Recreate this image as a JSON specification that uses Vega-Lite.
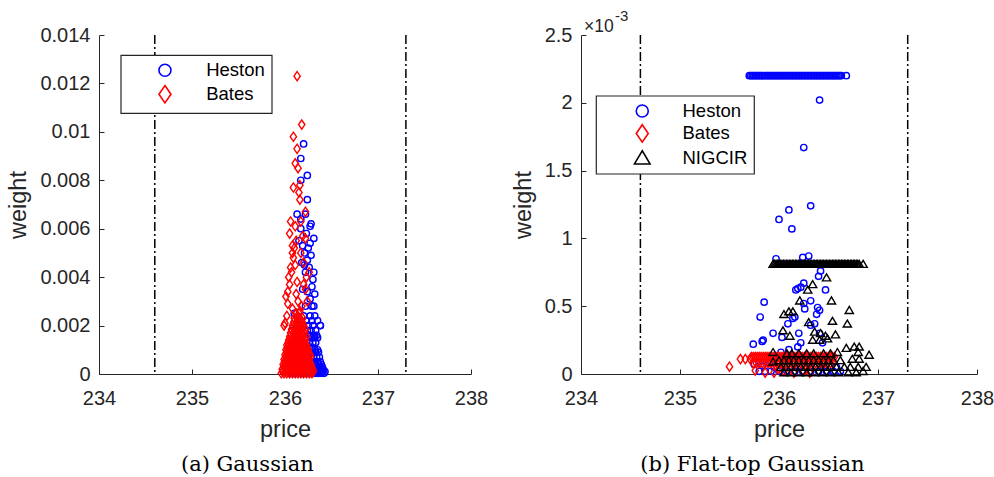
{
 "$schema": "https://vega.github.io/schema/vega-lite/v6.json",
 "background": "white",
 "padding": {"left": 6, "top": 9, "right": 0, "bottom": 0},
 "spacing": 23,
 "datasets": {
  "vlines": [{"price": 234.6}, {"price": 237.3}],
  "expo": [{"part": "base", "price": 234, "weight": 0.0025, "label": "×10"}, {"part": "exp", "price": 234, "weight": 0.0025, "label": "-3"}],
  "gauss": [
   {"model":"Heston","price":236.06,"weight":0.00003},{"model":"Heston","price":236.09,"weight":0.00003},{"model":"Heston","price":236.12,"weight":0.00003},{"model":"Heston","price":236.15,"weight":0.00003},{"model":"Heston","price":236.18,"weight":0.00003},{"model":"Heston","price":236.21,"weight":0.00003},{"model":"Heston","price":236.24,"weight":0.00003},{"model":"Heston","price":236.27,"weight":0.00003},{"model":"Heston","price":236.30,"weight":0.00003},{"model":"Heston","price":236.33,"weight":0.00003},{"model":"Heston","price":236.36,"weight":0.00003},{"model":"Heston","price":236.39,"weight":0.00003},{"model":"Heston","price":236.42,"weight":0.00003},
   {"model":"Heston","price":236.075,"weight":0.0001},{"model":"Heston","price":236.135,"weight":0.0001},{"model":"Heston","price":236.195,"weight":0.0001},{"model":"Heston","price":236.255,"weight":0.0001},{"model":"Heston","price":236.285,"weight":0.0001},{"model":"Heston","price":236.315,"weight":0.0001},{"model":"Heston","price":236.345,"weight":0.0001},{"model":"Heston","price":236.375,"weight":0.0001},{"model":"Heston","price":236.405,"weight":0.0001},{"model":"Heston","price":236.43,"weight":0.0001},
   {"model":"Heston","price":236.08,"weight":0.0002},{"model":"Heston","price":236.14,"weight":0.0002},{"model":"Heston","price":236.20,"weight":0.0002},{"model":"Heston","price":236.26,"weight":0.0002},{"model":"Heston","price":236.30,"weight":0.0002},{"model":"Heston","price":236.33,"weight":0.0002},{"model":"Heston","price":236.36,"weight":0.0002},{"model":"Heston","price":236.39,"weight":0.0002},{"model":"Heston","price":236.41,"weight":0.0002},
   {"model":"Heston","price":236.10,"weight":0.0003},{"model":"Heston","price":236.20,"weight":0.0003},{"model":"Heston","price":236.28,"weight":0.0003},{"model":"Heston","price":236.31,"weight":0.0003},{"model":"Heston","price":236.34,"weight":0.0003},{"model":"Heston","price":236.37,"weight":0.0003},{"model":"Heston","price":236.40,"weight":0.0003},
   {"model":"Heston","price":236.10,"weight":0.0004},{"model":"Heston","price":236.18,"weight":0.0004},{"model":"Heston","price":236.26,"weight":0.0004},{"model":"Heston","price":236.30,"weight":0.0004},{"model":"Heston","price":236.33,"weight":0.0004},{"model":"Heston","price":236.36,"weight":0.0004},{"model":"Heston","price":236.39,"weight":0.0004},
   {"model":"Heston","price":236.14,"weight":0.0005},{"model":"Heston","price":236.24,"weight":0.0005},{"model":"Heston","price":236.29,"weight":0.0005},{"model":"Heston","price":236.32,"weight":0.0005},{"model":"Heston","price":236.35,"weight":0.0005},{"model":"Heston","price":236.38,"weight":0.0005},
   {"model":"Heston","price":236.12,"weight":0.0007},{"model":"Heston","price":236.22,"weight":0.0007},{"model":"Heston","price":236.28,"weight":0.0007},{"model":"Heston","price":236.31,"weight":0.0007},{"model":"Heston","price":236.34,"weight":0.0007},{"model":"Heston","price":236.37,"weight":0.0007},
   {"model":"Heston","price":236.18,"weight":0.0009},{"model":"Heston","price":236.27,"weight":0.0009},{"model":"Heston","price":236.30,"weight":0.0009},{"model":"Heston","price":236.33,"weight":0.0009},{"model":"Heston","price":236.36,"weight":0.0009},
   {"model":"Heston","price":236.10,"weight":0.001},{"model":"Heston","price":236.24,"weight":0.001},{"model":"Heston","price":236.29,"weight":0.001},{"model":"Heston","price":236.32,"weight":0.001},{"model":"Heston","price":236.35,"weight":0.001},
   {"model":"Heston","price":236.08,"weight":0.0013},{"model":"Heston","price":236.26,"weight":0.0013},{"model":"Heston","price":236.30,"weight":0.0013},{"model":"Heston","price":236.33,"weight":0.0013},
   {"model":"Heston","price":236.22,"weight":0.0015},{"model":"Heston","price":236.29,"weight":0.0015},{"model":"Heston","price":236.32,"weight":0.0015},{"model":"Heston","price":236.35,"weight":0.0015},
   {"model":"Heston","price":236.12,"weight":0.0016},{"model":"Heston","price":236.27,"weight":0.0016},{"model":"Heston","price":236.31,"weight":0.0016},{"model":"Heston","price":236.34,"weight":0.0016},
   {"model":"Heston","price":236.08,"weight":0.0018},{"model":"Heston","price":236.24,"weight":0.0018},{"model":"Heston","price":236.28,"weight":0.0018},{"model":"Heston","price":236.33,"weight":0.0018},
   {"model":"Heston","price":236.15,"weight":0.002},{"model":"Heston","price":236.25,"weight":0.002},{"model":"Heston","price":236.30,"weight":0.002},{"model":"Heston","price":236.38,"weight":0.002},
   {"model":"Heston","price":236.23,"weight":0.0022},{"model":"Heston","price":236.29,"weight":0.0022},{"model":"Heston","price":236.35,"weight":0.0022},
   {"model":"Heston","price":236.20,"weight":0.0024},{"model":"Heston","price":236.27,"weight":0.0024},{"model":"Heston","price":236.32,"weight":0.0024},
   {"model":"Heston","price":236.22,"weight":0.0028},{"model":"Heston","price":236.29,"weight":0.0028},{"model":"Heston","price":236.31,"weight":0.0028},
   {"model":"Heston","price":236.10,"weight":0.0025},{"model":"Heston","price":236.27,"weight":0.0031},{"model":"Heston","price":236.32,"weight":0.0033},{"model":"Heston","price":236.24,"weight":0.0034},{"model":"Heston","price":236.29,"weight":0.0036},{"model":"Heston","price":236.19,"weight":0.0035},{"model":"Heston","price":236.30,"weight":0.0039},{"model":"Heston","price":236.31,"weight":0.0042},{"model":"Heston","price":236.22,"weight":0.0042},{"model":"Heston","price":236.26,"weight":0.0044},{"model":"Heston","price":236.18,"weight":0.0046},{"model":"Heston","price":236.24,"weight":0.0047},{"model":"Heston","price":236.28,"weight":0.0049},{"model":"Heston","price":236.21,"weight":0.0050},{"model":"Heston","price":236.25,"weight":0.0052},{"model":"Heston","price":236.19,"weight":0.0053},{"model":"Heston","price":236.27,"weight":0.0054},{"model":"Heston","price":236.31,"weight":0.0056},{"model":"Heston","price":236.23,"weight":0.0058},{"model":"Heston","price":236.17,"weight":0.0060},{"model":"Heston","price":236.27,"weight":0.0061},{"model":"Heston","price":236.28,"weight":0.0062},{"model":"Heston","price":236.17,"weight":0.0064},{"model":"Heston","price":236.13,"weight":0.0066},{"model":"Heston","price":236.22,"weight":0.0066},{"model":"Heston","price":236.24,"weight":0.0072},{"model":"Heston","price":236.17,"weight":0.0080},{"model":"Heston","price":236.24,"weight":0.0082},{"model":"Heston","price":236.17,"weight":0.0089},{"model":"Heston","price":236.20,"weight":0.0095},{"model":"Heston","price":236.15,"weight":0.0055},{"model":"Heston","price":236.21,"weight":0.0045},{"model":"Heston","price":236.38,"weight":0.0020},
   {"model":"Bates","price":235.96,"weight":0.00003},{"model":"Bates","price":235.99,"weight":0.00003},{"model":"Bates","price":236.02,"weight":0.00003},{"model":"Bates","price":236.05,"weight":0.00003},{"model":"Bates","price":236.08,"weight":0.00003},{"model":"Bates","price":236.11,"weight":0.00003},{"model":"Bates","price":236.14,"weight":0.00003},{"model":"Bates","price":236.17,"weight":0.00003},{"model":"Bates","price":236.20,"weight":0.00003},{"model":"Bates","price":236.23,"weight":0.00003},{"model":"Bates","price":236.26,"weight":0.00003},{"model":"Bates","price":236.29,"weight":0.00003},
   {"model":"Bates","price":235.975,"weight":0.0001},{"model":"Bates","price":236.005,"weight":0.0001},{"model":"Bates","price":236.035,"weight":0.0001},{"model":"Bates","price":236.065,"weight":0.0001},{"model":"Bates","price":236.095,"weight":0.0001},{"model":"Bates","price":236.125,"weight":0.0001},{"model":"Bates","price":236.155,"weight":0.0001},{"model":"Bates","price":236.185,"weight":0.0001},{"model":"Bates","price":236.215,"weight":0.0001},{"model":"Bates","price":236.245,"weight":0.0001},{"model":"Bates","price":236.275,"weight":0.0001},{"model":"Bates","price":236.305,"weight":0.0001},
   {"model":"Bates","price":235.97,"weight":0.0002},{"model":"Bates","price":236.00,"weight":0.0002},{"model":"Bates","price":236.03,"weight":0.0002},{"model":"Bates","price":236.06,"weight":0.0002},{"model":"Bates","price":236.09,"weight":0.0002},{"model":"Bates","price":236.12,"weight":0.0002},{"model":"Bates","price":236.15,"weight":0.0002},{"model":"Bates","price":236.18,"weight":0.0002},{"model":"Bates","price":236.21,"weight":0.0002},{"model":"Bates","price":236.24,"weight":0.0002},{"model":"Bates","price":236.27,"weight":0.0002},{"model":"Bates","price":236.30,"weight":0.0002},
   {"model":"Bates","price":235.985,"weight":0.0003},{"model":"Bates","price":236.015,"weight":0.0003},{"model":"Bates","price":236.045,"weight":0.0003},{"model":"Bates","price":236.075,"weight":0.0003},{"model":"Bates","price":236.105,"weight":0.0003},{"model":"Bates","price":236.135,"weight":0.0003},{"model":"Bates","price":236.165,"weight":0.0003},{"model":"Bates","price":236.195,"weight":0.0003},{"model":"Bates","price":236.225,"weight":0.0003},{"model":"Bates","price":236.255,"weight":0.0003},{"model":"Bates","price":236.285,"weight":0.0003},
   {"model":"Bates","price":235.98,"weight":0.0004},{"model":"Bates","price":236.01,"weight":0.0004},{"model":"Bates","price":236.04,"weight":0.0004},{"model":"Bates","price":236.07,"weight":0.0004},{"model":"Bates","price":236.10,"weight":0.0004},{"model":"Bates","price":236.13,"weight":0.0004},{"model":"Bates","price":236.16,"weight":0.0004},{"model":"Bates","price":236.19,"weight":0.0004},{"model":"Bates","price":236.22,"weight":0.0004},{"model":"Bates","price":236.25,"weight":0.0004},{"model":"Bates","price":236.28,"weight":0.0004},
   {"model":"Bates","price":235.995,"weight":0.0005},{"model":"Bates","price":236.025,"weight":0.0005},{"model":"Bates","price":236.055,"weight":0.0005},{"model":"Bates","price":236.085,"weight":0.0005},{"model":"Bates","price":236.115,"weight":0.0005},{"model":"Bates","price":236.145,"weight":0.0005},{"model":"Bates","price":236.175,"weight":0.0005},{"model":"Bates","price":236.205,"weight":0.0005},{"model":"Bates","price":236.235,"weight":0.0005},{"model":"Bates","price":236.265,"weight":0.0005},
   {"model":"Bates","price":235.99,"weight":0.0006},{"model":"Bates","price":236.02,"weight":0.0006},{"model":"Bates","price":236.05,"weight":0.0006},{"model":"Bates","price":236.08,"weight":0.0006},{"model":"Bates","price":236.11,"weight":0.0006},{"model":"Bates","price":236.14,"weight":0.0006},{"model":"Bates","price":236.17,"weight":0.0006},{"model":"Bates","price":236.20,"weight":0.0006},{"model":"Bates","price":236.23,"weight":0.0006},{"model":"Bates","price":236.26,"weight":0.0006},
   {"model":"Bates","price":236.005,"weight":0.0007},{"model":"Bates","price":236.035,"weight":0.0007},{"model":"Bates","price":236.065,"weight":0.0007},{"model":"Bates","price":236.095,"weight":0.0007},{"model":"Bates","price":236.125,"weight":0.0007},{"model":"Bates","price":236.155,"weight":0.0007},{"model":"Bates","price":236.185,"weight":0.0007},{"model":"Bates","price":236.215,"weight":0.0007},{"model":"Bates","price":236.245,"weight":0.0007},{"model":"Bates","price":236.275,"weight":0.0007},
   {"model":"Bates","price":236.00,"weight":0.0008},{"model":"Bates","price":236.03,"weight":0.0008},{"model":"Bates","price":236.06,"weight":0.0008},{"model":"Bates","price":236.09,"weight":0.0008},{"model":"Bates","price":236.12,"weight":0.0008},{"model":"Bates","price":236.15,"weight":0.0008},{"model":"Bates","price":236.18,"weight":0.0008},{"model":"Bates","price":236.21,"weight":0.0008},{"model":"Bates","price":236.24,"weight":0.0008},{"model":"Bates","price":236.27,"weight":0.0008},
   {"model":"Bates","price":236.015,"weight":0.0009},{"model":"Bates","price":236.045,"weight":0.0009},{"model":"Bates","price":236.075,"weight":0.0009},{"model":"Bates","price":236.105,"weight":0.0009},{"model":"Bates","price":236.135,"weight":0.0009},{"model":"Bates","price":236.165,"weight":0.0009},{"model":"Bates","price":236.195,"weight":0.0009},{"model":"Bates","price":236.225,"weight":0.0009},{"model":"Bates","price":236.255,"weight":0.0009},
   {"model":"Bates","price":236.01,"weight":0.001},{"model":"Bates","price":236.04,"weight":0.001},{"model":"Bates","price":236.07,"weight":0.001},{"model":"Bates","price":236.10,"weight":0.001},{"model":"Bates","price":236.13,"weight":0.001},{"model":"Bates","price":236.16,"weight":0.001},{"model":"Bates","price":236.19,"weight":0.001},{"model":"Bates","price":236.22,"weight":0.001},{"model":"Bates","price":236.25,"weight":0.001},
   {"model":"Bates","price":236.025,"weight":0.0011},{"model":"Bates","price":236.055,"weight":0.0011},{"model":"Bates","price":236.085,"weight":0.0011},{"model":"Bates","price":236.115,"weight":0.0011},{"model":"Bates","price":236.145,"weight":0.0011},{"model":"Bates","price":236.175,"weight":0.0011},{"model":"Bates","price":236.205,"weight":0.0011},{"model":"Bates","price":236.235,"weight":0.0011},
   {"model":"Bates","price":236.02,"weight":0.0012},{"model":"Bates","price":236.05,"weight":0.0012},{"model":"Bates","price":236.08,"weight":0.0012},{"model":"Bates","price":236.11,"weight":0.0012},{"model":"Bates","price":236.14,"weight":0.0012},{"model":"Bates","price":236.17,"weight":0.0012},{"model":"Bates","price":236.20,"weight":0.0012},{"model":"Bates","price":236.23,"weight":0.0012},
   {"model":"Bates","price":236.035,"weight":0.0013},{"model":"Bates","price":236.065,"weight":0.0013},{"model":"Bates","price":236.095,"weight":0.0013},{"model":"Bates","price":236.125,"weight":0.0013},{"model":"Bates","price":236.155,"weight":0.0013},{"model":"Bates","price":236.185,"weight":0.0013},{"model":"Bates","price":236.215,"weight":0.0013},
   {"model":"Bates","price":236.04,"weight":0.0014},{"model":"Bates","price":236.07,"weight":0.0014},{"model":"Bates","price":236.10,"weight":0.0014},{"model":"Bates","price":236.13,"weight":0.0014},{"model":"Bates","price":236.16,"weight":0.0014},{"model":"Bates","price":236.19,"weight":0.0014},{"model":"Bates","price":236.22,"weight":0.0014},
   {"model":"Bates","price":236.05,"weight":0.00155},{"model":"Bates","price":236.08,"weight":0.00155},{"model":"Bates","price":236.11,"weight":0.00155},{"model":"Bates","price":236.14,"weight":0.00155},{"model":"Bates","price":236.17,"weight":0.00155},{"model":"Bates","price":236.20,"weight":0.00155},{"model":"Bates","price":236.23,"weight":0.00155},
   {"model":"Bates","price":236.06,"weight":0.0017},{"model":"Bates","price":236.09,"weight":0.0017},{"model":"Bates","price":236.12,"weight":0.0017},{"model":"Bates","price":236.15,"weight":0.0017},{"model":"Bates","price":236.18,"weight":0.0017},{"model":"Bates","price":236.21,"weight":0.0017},
   {"model":"Bates","price":236.07,"weight":0.00185},{"model":"Bates","price":236.10,"weight":0.00185},{"model":"Bates","price":236.13,"weight":0.00185},{"model":"Bates","price":236.16,"weight":0.00185},{"model":"Bates","price":236.19,"weight":0.00185},{"model":"Bates","price":236.22,"weight":0.00185},
   {"model":"Bates","price":236.08,"weight":0.002},{"model":"Bates","price":236.11,"weight":0.002},{"model":"Bates","price":236.14,"weight":0.002},{"model":"Bates","price":236.17,"weight":0.002},{"model":"Bates","price":236.20,"weight":0.002},
   {"model":"Bates","price":236.095,"weight":0.00215},{"model":"Bates","price":236.125,"weight":0.00215},{"model":"Bates","price":236.155,"weight":0.00215},{"model":"Bates","price":236.185,"weight":0.00215},
   {"model":"Bates","price":236.10,"weight":0.0023},{"model":"Bates","price":236.13,"weight":0.0023},{"model":"Bates","price":236.16,"weight":0.0023},{"model":"Bates","price":236.19,"weight":0.0023},
   {"model":"Bates","price":236.12,"weight":0.0025},{"model":"Bates","price":236.15,"weight":0.0025},
   {"model":"Bates","price":236.00,"weight":0.0021},{"model":"Bates","price":235.99,"weight":0.0020},{"model":"Bates","price":236.02,"weight":0.0024},{"model":"Bates","price":236.03,"weight":0.0029},{"model":"Bates","price":236.01,"weight":0.0032},{"model":"Bates","price":236.03,"weight":0.0034},{"model":"Bates","price":236.05,"weight":0.0037},{"model":"Bates","price":236.04,"weight":0.0040},{"model":"Bates","price":236.07,"weight":0.0042},{"model":"Bates","price":236.06,"weight":0.0044},{"model":"Bates","price":236.11,"weight":0.0045},{"model":"Bates","price":236.09,"weight":0.0048},{"model":"Bates","price":236.08,"weight":0.0050},{"model":"Bates","price":236.10,"weight":0.0052},{"model":"Bates","price":236.12,"weight":0.0055},{"model":"Bates","price":236.08,"weight":0.0053},{"model":"Bates","price":236.22,"weight":0.0056},{"model":"Bates","price":236.19,"weight":0.0057},{"model":"Bates","price":236.05,"weight":0.0058},{"model":"Bates","price":236.06,"weight":0.0063},{"model":"Bates","price":236.17,"weight":0.0063},{"model":"Bates","price":236.22,"weight":0.0067},{"model":"Bates","price":236.16,"weight":0.0072},{"model":"Bates","price":236.15,"weight":0.0075},{"model":"Bates","price":236.16,"weight":0.0078},{"model":"Bates","price":236.09,"weight":0.0077},{"model":"Bates","price":236.14,"weight":0.0085},{"model":"Bates","price":236.11,"weight":0.0087},{"model":"Bates","price":236.13,"weight":0.0093},{"model":"Bates","price":236.09,"weight":0.0098},{"model":"Bates","price":236.18,"weight":0.0103},{"model":"Bates","price":236.13,"weight":0.0123},{"model":"Bates","price":236.26,"weight":0.0042},{"model":"Bates","price":236.23,"weight":0.0040},{"model":"Bates","price":236.20,"weight":0.0037},{"model":"Bates","price":236.22,"weight":0.0035},{"model":"Bates","price":236.14,"weight":0.0030},{"model":"Bates","price":236.18,"weight":0.0028},{"model":"Bates","price":236.12,"weight":0.0033},{"model":"Bates","price":236.16,"weight":0.0026},{"model":"Bates","price":236.24,"weight":0.0030},{"model":"Bates","price":236.08,"weight":0.0027},{"model":"Bates","price":236.20,"weight":0.0046},{"model":"Bates","price":236.17,"weight":0.0050},{"model":"Bates","price":236.13,"weight":0.0038},{"model":"Bates","price":236.11,"weight":0.0061}
  ],
  "flat": [
   {"model":"Heston","price":235.70,"weight":0.0022},{"model":"Heston","price":235.715,"weight":0.0022},{"model":"Heston","price":235.73,"weight":0.0022},{"model":"Heston","price":235.745,"weight":0.0022},{"model":"Heston","price":235.76,"weight":0.0022},{"model":"Heston","price":235.775,"weight":0.0022},{"model":"Heston","price":235.79,"weight":0.0022},{"model":"Heston","price":235.805,"weight":0.0022},{"model":"Heston","price":235.82,"weight":0.0022},{"model":"Heston","price":235.835,"weight":0.0022},{"model":"Heston","price":235.85,"weight":0.0022},{"model":"Heston","price":235.865,"weight":0.0022},{"model":"Heston","price":235.88,"weight":0.0022},{"model":"Heston","price":235.895,"weight":0.0022},{"model":"Heston","price":235.91,"weight":0.0022},{"model":"Heston","price":235.925,"weight":0.0022},{"model":"Heston","price":235.94,"weight":0.0022},{"model":"Heston","price":235.955,"weight":0.0022},{"model":"Heston","price":235.97,"weight":0.0022},{"model":"Heston","price":235.985,"weight":0.0022},{"model":"Heston","price":236.00,"weight":0.0022},{"model":"Heston","price":236.015,"weight":0.0022},{"model":"Heston","price":236.03,"weight":0.0022},{"model":"Heston","price":236.045,"weight":0.0022},{"model":"Heston","price":236.06,"weight":0.0022},{"model":"Heston","price":236.075,"weight":0.0022},{"model":"Heston","price":236.09,"weight":0.0022},{"model":"Heston","price":236.105,"weight":0.0022},{"model":"Heston","price":236.12,"weight":0.0022},{"model":"Heston","price":236.135,"weight":0.0022},{"model":"Heston","price":236.15,"weight":0.0022},{"model":"Heston","price":236.165,"weight":0.0022},{"model":"Heston","price":236.18,"weight":0.0022},{"model":"Heston","price":236.195,"weight":0.0022},{"model":"Heston","price":236.21,"weight":0.0022},{"model":"Heston","price":236.225,"weight":0.0022},{"model":"Heston","price":236.24,"weight":0.0022},{"model":"Heston","price":236.255,"weight":0.0022},{"model":"Heston","price":236.27,"weight":0.0022},{"model":"Heston","price":236.285,"weight":0.0022},{"model":"Heston","price":236.30,"weight":0.0022},{"model":"Heston","price":236.315,"weight":0.0022},{"model":"Heston","price":236.33,"weight":0.0022},{"model":"Heston","price":236.345,"weight":0.0022},{"model":"Heston","price":236.36,"weight":0.0022},{"model":"Heston","price":236.375,"weight":0.0022},{"model":"Heston","price":236.39,"weight":0.0022},{"model":"Heston","price":236.405,"weight":0.0022},{"model":"Heston","price":236.42,"weight":0.0022},{"model":"Heston","price":236.435,"weight":0.0022},{"model":"Heston","price":236.45,"weight":0.0022},{"model":"Heston","price":236.465,"weight":0.0022},{"model":"Heston","price":236.48,"weight":0.0022},{"model":"Heston","price":236.495,"weight":0.0022},{"model":"Heston","price":236.51,"weight":0.0022},{"model":"Heston","price":236.525,"weight":0.0022},{"model":"Heston","price":236.54,"weight":0.0022},{"model":"Heston","price":236.555,"weight":0.0022},{"model":"Heston","price":236.57,"weight":0.0022},{"model":"Heston","price":236.585,"weight":0.0022},{"model":"Heston","price":236.60,"weight":0.0022},{"model":"Heston","price":236.615,"weight":0.0022},{"model":"Heston","price":236.63,"weight":0.0022},{"model":"Heston","price":236.68,"weight":0.0022},
   {"model":"Heston","price":236.41,"weight":0.00202},{"model":"Heston","price":236.25,"weight":0.00167},{"model":"Heston","price":236.32,"weight":0.00124},{"model":"Heston","price":236.10,"weight":0.00121},{"model":"Heston","price":236.00,"weight":0.00114},{"model":"Heston","price":236.13,"weight":0.00107},{"model":"Heston","price":235.97,"weight":0.00085},{"model":"Heston","price":236.24,"weight":0.00086},{"model":"Heston","price":236.30,"weight":0.00087},{"model":"Heston","price":236.42,"weight":0.00076},{"model":"Heston","price":236.40,"weight":0.00072},{"model":"Heston","price":236.25,"weight":0.00067},{"model":"Heston","price":236.22,"weight":0.00064},{"model":"Heston","price":236.17,"weight":0.00062},{"model":"Heston","price":236.47,"weight":0.00062},{"model":"Heston","price":236.32,"weight":0.00054},{"model":"Heston","price":236.25,"weight":0.00052},{"model":"Heston","price":236.26,"weight":0.00048},{"model":"Heston","price":236.41,"weight":0.00047},{"model":"Heston","price":235.85,"weight":0.00053},{"model":"Heston","price":235.81,"weight":0.00042},{"model":"Heston","price":236.38,"weight":0.00044},{"model":"Heston","price":236.36,"weight":0.00037},{"model":"Heston","price":236.16,"weight":0.00042},{"model":"Heston","price":236.09,"weight":0.00037},{"model":"Heston","price":235.94,"weight":0.00030},{"model":"Heston","price":235.84,"weight":0.00025},{"model":"Heston","price":235.74,"weight":0.00022},{"model":"Heston","price":236.03,"weight":0.00027},{"model":"Heston","price":236.20,"weight":0.00030},{"model":"Heston","price":236.32,"weight":0.00036},{"model":"Heston","price":236.41,"weight":0.00030},{"model":"Heston","price":236.44,"weight":0.00023},{"model":"Heston","price":236.22,"weight":0.00023},{"model":"Heston","price":236.19,"weight":0.00020},{"model":"Heston","price":236.10,"weight":0.00018},{"model":"Heston","price":236.02,"weight":0.00016},{"model":"Heston","price":235.83,"weight":0.00024},{"model":"Heston","price":236.39,"weight":0.00049},{"model":"Heston","price":236.19,"weight":0.00063},{"model":"Heston","price":236.14,"weight":0.00041},{"model":"Heston","price":235.75,"weight":0.00007},{"model":"Heston","price":235.83,"weight":0.00006},{"model":"Heston","price":235.90,"weight":0.00008},
   {"model":"Heston","price":235.80,"weight":0.00002},{"model":"Heston","price":235.86,"weight":0.00002},{"model":"Heston","price":235.92,"weight":0.00002},{"model":"Heston","price":236.00,"weight":0.00002},{"model":"Heston","price":236.08,"weight":0.00002},{"model":"Heston","price":236.16,"weight":0.00002},{"model":"Heston","price":236.24,"weight":0.00002},{"model":"Heston","price":236.32,"weight":0.00002},{"model":"Heston","price":236.40,"weight":0.00002},{"model":"Heston","price":236.48,"weight":0.00002},{"model":"Heston","price":236.55,"weight":0.00002},{"model":"Heston","price":236.62,"weight":0.00002},{"model":"Heston","price":235.95,"weight":0.00005},{"model":"Heston","price":236.20,"weight":0.00005},{"model":"Heston","price":236.45,"weight":0.00005},{"model":"Heston","price":236.58,"weight":0.00005},
   {"model":"Bates","price":235.72,"weight":0.000125},{"model":"Bates","price":235.74,"weight":0.000125},{"model":"Bates","price":235.76,"weight":0.000125},{"model":"Bates","price":235.78,"weight":0.000125},{"model":"Bates","price":235.80,"weight":0.000125},{"model":"Bates","price":235.82,"weight":0.000125},{"model":"Bates","price":235.84,"weight":0.000125},{"model":"Bates","price":235.86,"weight":0.000125},{"model":"Bates","price":235.88,"weight":0.000125},{"model":"Bates","price":235.90,"weight":0.000125},{"model":"Bates","price":235.92,"weight":0.000125},{"model":"Bates","price":235.94,"weight":0.000125},{"model":"Bates","price":235.96,"weight":0.000125},{"model":"Bates","price":235.98,"weight":0.000125},{"model":"Bates","price":236.00,"weight":0.000125},{"model":"Bates","price":236.02,"weight":0.000125},{"model":"Bates","price":236.04,"weight":0.000125},{"model":"Bates","price":236.06,"weight":0.000125},{"model":"Bates","price":236.08,"weight":0.000125},{"model":"Bates","price":236.10,"weight":0.000125},{"model":"Bates","price":236.12,"weight":0.000125},{"model":"Bates","price":236.14,"weight":0.000125},{"model":"Bates","price":236.16,"weight":0.000125},{"model":"Bates","price":236.18,"weight":0.000125},{"model":"Bates","price":236.20,"weight":0.000125},{"model":"Bates","price":236.22,"weight":0.000125},{"model":"Bates","price":236.24,"weight":0.000125},{"model":"Bates","price":236.26,"weight":0.000125},{"model":"Bates","price":236.28,"weight":0.000125},{"model":"Bates","price":236.30,"weight":0.000125},{"model":"Bates","price":236.32,"weight":0.000125},{"model":"Bates","price":236.34,"weight":0.000125},{"model":"Bates","price":236.36,"weight":0.000125},{"model":"Bates","price":236.38,"weight":0.000125},{"model":"Bates","price":236.40,"weight":0.000125},{"model":"Bates","price":236.42,"weight":0.000125},{"model":"Bates","price":236.44,"weight":0.000125},{"model":"Bates","price":236.46,"weight":0.000125},{"model":"Bates","price":236.48,"weight":0.000125},{"model":"Bates","price":236.50,"weight":0.000125},{"model":"Bates","price":236.52,"weight":0.000125},{"model":"Bates","price":236.54,"weight":0.000125},{"model":"Bates","price":236.56,"weight":0.000125},
   {"model":"Bates","price":235.74,"weight":0.00008},{"model":"Bates","price":235.77,"weight":0.00008},{"model":"Bates","price":235.80,"weight":0.00008},{"model":"Bates","price":235.83,"weight":0.00008},{"model":"Bates","price":235.86,"weight":0.00008},{"model":"Bates","price":235.89,"weight":0.00008},{"model":"Bates","price":235.92,"weight":0.00008},{"model":"Bates","price":235.95,"weight":0.00008},{"model":"Bates","price":235.98,"weight":0.00008},{"model":"Bates","price":236.01,"weight":0.00008},{"model":"Bates","price":236.04,"weight":0.00008},{"model":"Bates","price":236.07,"weight":0.00008},{"model":"Bates","price":236.10,"weight":0.00008},{"model":"Bates","price":236.13,"weight":0.00008},{"model":"Bates","price":236.16,"weight":0.00008},{"model":"Bates","price":236.19,"weight":0.00008},{"model":"Bates","price":236.22,"weight":0.00008},{"model":"Bates","price":236.25,"weight":0.00008},{"model":"Bates","price":236.28,"weight":0.00008},{"model":"Bates","price":236.31,"weight":0.00008},{"model":"Bates","price":236.34,"weight":0.00008},{"model":"Bates","price":236.37,"weight":0.00008},{"model":"Bates","price":236.40,"weight":0.00008},{"model":"Bates","price":236.43,"weight":0.00008},{"model":"Bates","price":236.46,"weight":0.00008},{"model":"Bates","price":236.49,"weight":0.00008},{"model":"Bates","price":236.52,"weight":0.00008},{"model":"Bates","price":236.55,"weight":0.00008},
   {"model":"Bates","price":235.50,"weight":0.000054},{"model":"Bates","price":235.61,"weight":0.00011},{"model":"Bates","price":235.66,"weight":0.00011},{"model":"Bates","price":235.71,"weight":0.00011},{"model":"Bates","price":235.76,"weight":0.000025},{"model":"Bates","price":235.86,"weight":0.00001},{"model":"Bates","price":235.95,"weight":0.00001},{"model":"Bates","price":236.05,"weight":0.00002},{"model":"Bates","price":236.15,"weight":0.00001},{"model":"Bates","price":236.25,"weight":0.00002},{"model":"Bates","price":236.31,"weight":0.00001},{"model":"Bates","price":236.00,"weight":0.00004},
   {"model":"NIGCIR","price":235.94,"weight":0.00081},{"model":"NIGCIR","price":235.955,"weight":0.00081},{"model":"NIGCIR","price":235.97,"weight":0.00081},{"model":"NIGCIR","price":235.985,"weight":0.00081},{"model":"NIGCIR","price":236.00,"weight":0.00081},{"model":"NIGCIR","price":236.015,"weight":0.00081},{"model":"NIGCIR","price":236.03,"weight":0.00081},{"model":"NIGCIR","price":236.045,"weight":0.00081},{"model":"NIGCIR","price":236.06,"weight":0.00081},{"model":"NIGCIR","price":236.075,"weight":0.00081},{"model":"NIGCIR","price":236.09,"weight":0.00081},{"model":"NIGCIR","price":236.105,"weight":0.00081},{"model":"NIGCIR","price":236.12,"weight":0.00081},{"model":"NIGCIR","price":236.135,"weight":0.00081},{"model":"NIGCIR","price":236.15,"weight":0.00081},{"model":"NIGCIR","price":236.165,"weight":0.00081},{"model":"NIGCIR","price":236.18,"weight":0.00081},{"model":"NIGCIR","price":236.195,"weight":0.00081},{"model":"NIGCIR","price":236.21,"weight":0.00081},{"model":"NIGCIR","price":236.225,"weight":0.00081},{"model":"NIGCIR","price":236.24,"weight":0.00081},{"model":"NIGCIR","price":236.255,"weight":0.00081},{"model":"NIGCIR","price":236.27,"weight":0.00081},{"model":"NIGCIR","price":236.285,"weight":0.00081},{"model":"NIGCIR","price":236.30,"weight":0.00081},{"model":"NIGCIR","price":236.315,"weight":0.00081},{"model":"NIGCIR","price":236.33,"weight":0.00081},{"model":"NIGCIR","price":236.345,"weight":0.00081},{"model":"NIGCIR","price":236.36,"weight":0.00081},{"model":"NIGCIR","price":236.375,"weight":0.00081},{"model":"NIGCIR","price":236.39,"weight":0.00081},{"model":"NIGCIR","price":236.405,"weight":0.00081},{"model":"NIGCIR","price":236.42,"weight":0.00081},{"model":"NIGCIR","price":236.435,"weight":0.00081},{"model":"NIGCIR","price":236.45,"weight":0.00081},{"model":"NIGCIR","price":236.465,"weight":0.00081},{"model":"NIGCIR","price":236.48,"weight":0.00081},{"model":"NIGCIR","price":236.495,"weight":0.00081},{"model":"NIGCIR","price":236.51,"weight":0.00081},{"model":"NIGCIR","price":236.525,"weight":0.00081},{"model":"NIGCIR","price":236.54,"weight":0.00081},{"model":"NIGCIR","price":236.555,"weight":0.00081},{"model":"NIGCIR","price":236.57,"weight":0.00081},{"model":"NIGCIR","price":236.585,"weight":0.00081},{"model":"NIGCIR","price":236.60,"weight":0.00081},{"model":"NIGCIR","price":236.615,"weight":0.00081},{"model":"NIGCIR","price":236.63,"weight":0.00081},{"model":"NIGCIR","price":236.645,"weight":0.00081},{"model":"NIGCIR","price":236.66,"weight":0.00081},{"model":"NIGCIR","price":236.675,"weight":0.00081},{"model":"NIGCIR","price":236.69,"weight":0.00081},{"model":"NIGCIR","price":236.705,"weight":0.00081},{"model":"NIGCIR","price":236.72,"weight":0.00081},{"model":"NIGCIR","price":236.735,"weight":0.00081},{"model":"NIGCIR","price":236.75,"weight":0.00081},{"model":"NIGCIR","price":236.765,"weight":0.00081},{"model":"NIGCIR","price":236.78,"weight":0.00081},{"model":"NIGCIR","price":236.795,"weight":0.00081},{"model":"NIGCIR","price":236.81,"weight":0.00081},{"model":"NIGCIR","price":236.85,"weight":0.00081},
   {"model":"NIGCIR","price":236.48,"weight":0.00071},{"model":"NIGCIR","price":236.34,"weight":0.00066},{"model":"NIGCIR","price":236.29,"weight":0.00062},{"model":"NIGCIR","price":236.21,"weight":0.00054},{"model":"NIGCIR","price":236.53,"weight":0.00054},{"model":"NIGCIR","price":236.05,"weight":0.00044},{"model":"NIGCIR","price":236.10,"weight":0.00046},{"model":"NIGCIR","price":236.14,"weight":0.00046},{"model":"NIGCIR","price":236.71,"weight":0.00047},{"model":"NIGCIR","price":236.30,"weight":0.00038},{"model":"NIGCIR","price":236.54,"weight":0.00039},{"model":"NIGCIR","price":236.69,"weight":0.00037},{"model":"NIGCIR","price":236.04,"weight":0.00032},{"model":"NIGCIR","price":236.42,"weight":0.00030},{"model":"NIGCIR","price":236.57,"weight":0.00029},{"model":"NIGCIR","price":236.11,"weight":0.00028},{"model":"NIGCIR","price":236.36,"weight":0.00031},{"model":"NIGCIR","price":236.47,"weight":0.00028},{"model":"NIGCIR","price":236.34,"weight":0.00025},{"model":"NIGCIR","price":236.41,"weight":0.00025},{"model":"NIGCIR","price":236.49,"weight":0.00026},{"model":"NIGCIR","price":236.59,"weight":0.00016},{"model":"NIGCIR","price":236.68,"weight":0.00019},{"model":"NIGCIR","price":236.76,"weight":0.00020},{"model":"NIGCIR","price":236.81,"weight":0.00020},{"model":"NIGCIR","price":236.80,"weight":0.00016},{"model":"NIGCIR","price":236.91,"weight":0.00014},{"model":"NIGCIR","price":236.74,"weight":0.00011},{"model":"NIGCIR","price":236.81,"weight":0.00011},{"model":"NIGCIR","price":236.88,"weight":0.00005},{"model":"NIGCIR","price":236.85,"weight":0.00002},{"model":"NIGCIR","price":235.94,"weight":0.00016},{"model":"NIGCIR","price":235.94,"weight":0.00009},
   {"model":"NIGCIR","price":236.08,"weight":0.00015},{"model":"NIGCIR","price":236.13,"weight":0.00015},{"model":"NIGCIR","price":236.20,"weight":0.00015},{"model":"NIGCIR","price":236.28,"weight":0.00015},{"model":"NIGCIR","price":236.35,"weight":0.00015},{"model":"NIGCIR","price":236.45,"weight":0.00015},{"model":"NIGCIR","price":236.52,"weight":0.00015},
   {"model":"NIGCIR","price":236.00,"weight":0.0001},{"model":"NIGCIR","price":236.05,"weight":0.0001},{"model":"NIGCIR","price":236.10,"weight":0.0001},{"model":"NIGCIR","price":236.15,"weight":0.0001},{"model":"NIGCIR","price":236.20,"weight":0.0001},{"model":"NIGCIR","price":236.25,"weight":0.0001},{"model":"NIGCIR","price":236.30,"weight":0.0001},{"model":"NIGCIR","price":236.35,"weight":0.0001},{"model":"NIGCIR","price":236.40,"weight":0.0001},{"model":"NIGCIR","price":236.45,"weight":0.0001},{"model":"NIGCIR","price":236.50,"weight":0.0001},{"model":"NIGCIR","price":236.55,"weight":0.0001},{"model":"NIGCIR","price":236.62,"weight":0.0001},
   {"model":"NIGCIR","price":236.02,"weight":0.00005},{"model":"NIGCIR","price":236.07,"weight":0.00005},{"model":"NIGCIR","price":236.12,"weight":0.00005},{"model":"NIGCIR","price":236.17,"weight":0.00005},{"model":"NIGCIR","price":236.22,"weight":0.00005},{"model":"NIGCIR","price":236.27,"weight":0.00005},{"model":"NIGCIR","price":236.32,"weight":0.00005},{"model":"NIGCIR","price":236.37,"weight":0.00005},{"model":"NIGCIR","price":236.42,"weight":0.00005},{"model":"NIGCIR","price":236.47,"weight":0.00005},{"model":"NIGCIR","price":236.52,"weight":0.00005},{"model":"NIGCIR","price":236.58,"weight":0.00005},{"model":"NIGCIR","price":236.66,"weight":0.00005},{"model":"NIGCIR","price":236.72,"weight":0.00005},{"model":"NIGCIR","price":236.80,"weight":0.00005},
   {"model":"NIGCIR","price":236.05,"weight":0.00001},{"model":"NIGCIR","price":236.12,"weight":0.00001},{"model":"NIGCIR","price":236.20,"weight":0.00001},{"model":"NIGCIR","price":236.28,"weight":0.00001},{"model":"NIGCIR","price":236.36,"weight":0.00001},{"model":"NIGCIR","price":236.44,"weight":0.00001},{"model":"NIGCIR","price":236.52,"weight":0.00001},{"model":"NIGCIR","price":236.60,"weight":0.00001},{"model":"NIGCIR","price":236.70,"weight":0.00001},{"model":"NIGCIR","price":236.78,"weight":0.00001}
  ]
 },
 "hconcat": [
  {
   "width": 372, "height": 339,
   "title": {"text": "(a) Gaussian", "orient": "bottom", "anchor": "middle", "frame": "bounds", "font": "DejaVu Serif", "fontSize": 21, "fontWeight": "normal", "color": "black", "offset": 13},
   "layer": [
    {"data": {"name": "vlines"}, "mark": {"type": "rule", "color": "black", "strokeWidth": 1.5, "strokeDash": [9, 3, 2, 3]},
     "encoding": {"x": {"field": "price", "type": "quantitative", "scale": {"domain": [234, 238], "nice": false}, "axis": {"values": [234, 235, 236, 237, 238], "format": "d", "title": "price"}}}},
    {"data": {"name": "gauss"}, "mark": {"type": "point", "filled": false, "size": 40, "strokeWidth": 1.4, "opacity": 1},
     "encoding": {
      "x": {"field": "price", "type": "quantitative", "scale": {"domain": [234, 238], "nice": false}, "axis": {"values": [234, 235, 236, 237, 238], "format": "d", "title": "price"}},
      "y": {"field": "weight", "type": "quantitative", "scale": {"domain": [0, 0.014], "nice": false}, "axis": {"values": [0, 0.002, 0.004, 0.006, 0.008, 0.01, 0.012, 0.014], "format": ".3~f", "title": "weight"}},
      "color": {"field": "model", "type": "nominal", "scale": {"domain": ["Heston", "Bates"], "range": ["#0000ff", "#ff0000"]},
       "legend": {"title": null, "orient": "none", "legendX": 21.7, "legendY": 20, "padding": 6, "strokeColor": "#262626", "fillColor": "white", "cornerRadius": 0, "symbolSize": 144, "symbolStrokeWidth": 1.6, "symbolOffset": 29, "labelOffset": 32, "labelFont": "Liberation Sans", "labelFontSize": 18.5, "labelColor": "black", "rowPadding": 2}},
      "shape": {"field": "model", "type": "nominal", "scale": {"domain": ["Heston", "Bates"], "range": ["circle", "M0,-1.45L1,0L0,1.45L-1,0Z"]},
       "legend": {"title": null, "orient": "none", "legendX": 21.7, "legendY": 20, "padding": 6, "strokeColor": "#262626", "fillColor": "white", "cornerRadius": 0, "symbolSize": 144, "symbolStrokeWidth": 1.6, "symbolOffset": 29, "labelOffset": 32, "labelFont": "Liberation Sans", "labelFontSize": 18.5, "labelColor": "black", "rowPadding": 2}}
     }}
   ]
  },
  {
   "width": 396, "height": 339,
   "title": {"text": "(b) Flat-top Gaussian", "orient": "bottom", "anchor": "middle", "frame": "bounds", "font": "DejaVu Serif", "fontSize": 21, "fontWeight": "normal", "color": "black", "offset": 13},
   "layer": [
    {"data": {"name": "vlines"}, "mark": {"type": "rule", "color": "black", "strokeWidth": 1.5, "strokeDash": [9, 3, 2, 3]},
     "encoding": {"x": {"field": "price", "type": "quantitative", "scale": {"domain": [234, 238], "nice": false}, "axis": {"values": [234, 235, 236, 237, 238], "format": "d", "title": "price"}}}},
    {"data": {"name": "flat"}, "mark": {"type": "point", "filled": false, "size": 40, "strokeWidth": 1.4, "opacity": 1},
     "encoding": {
      "x": {"field": "price", "type": "quantitative", "scale": {"domain": [234, 238], "nice": false}, "axis": {"values": [234, 235, 236, 237, 238], "format": "d", "title": "price"}},
      "y": {"field": "weight", "type": "quantitative", "scale": {"domain": [0, 0.0025], "nice": false}, "axis": {"values": [0, 0.0005, 0.001, 0.0015, 0.002, 0.0025], "labelExpr": "format(datum.value*1000, '.1~f')", "title": "weight"}},
      "color": {"field": "model", "type": "nominal", "scale": {"domain": ["Heston", "Bates", "NIGCIR"], "range": ["#0000ff", "#ff0000", "#000000"]},
       "legend": {"title": null, "orient": "none", "legendX": 15, "legendY": 60.7, "padding": 6, "strokeColor": "#262626", "fillColor": "white", "cornerRadius": 0, "symbolSize": 144, "symbolStrokeWidth": 1.6, "symbolOffset": 31, "labelOffset": 31, "labelFont": "Liberation Sans", "labelFontSize": 18.5, "labelColor": "black", "rowPadding": 0.5}},
      "shape": {"field": "model", "type": "nominal", "scale": {"domain": ["Heston", "Bates", "NIGCIR"], "range": ["circle", "M0,-1.45L1,0L0,1.45L-1,0Z", "M0,-1.2L1.3,1L-1.3,1Z"]},
       "legend": {"title": null, "orient": "none", "legendX": 15, "legendY": 60.7, "padding": 6, "strokeColor": "#262626", "fillColor": "white", "cornerRadius": 0, "symbolSize": 144, "symbolStrokeWidth": 1.6, "symbolOffset": 31, "labelOffset": 31, "labelFont": "Liberation Sans", "labelFontSize": 18.5, "labelColor": "black", "rowPadding": 0.5}}
     }},
    {"data": {"name": "expo"}, "transform": [{"filter": "datum.part == 'base'"}],
     "mark": {"type": "text", "align": "left", "baseline": "alphabetic", "dx": 3, "dy": -3, "font": "Liberation Sans", "color": "#262626"},
     "encoding": {"x": {"field": "price", "type": "quantitative"}, "y": {"field": "weight", "type": "quantitative"}, "text": {"field": "label"}, "size": {"value": 17.5}}},
    {"data": {"name": "expo"}, "transform": [{"filter": "datum.part == 'exp'"}],
     "mark": {"type": "text", "align": "left", "baseline": "alphabetic", "dx": 34, "dy": -14, "font": "Liberation Sans", "color": "#262626"},
     "encoding": {"x": {"field": "price", "type": "quantitative"}, "y": {"field": "weight", "type": "quantitative"}, "text": {"field": "label"}, "size": {"value": 15}}}
   ]
  }
 ],
 "resolve": {"scale": {"x": "independent", "y": "independent", "color": "independent", "shape": "independent"}, "legend": {"color": "independent", "shape": "independent"}},
 "config": {
  "view": {"stroke": null},
  "axis": {"grid": false, "labelFlush": false, "domainColor": "#262626", "domainWidth": 1, "tickColor": "#262626", "tickWidth": 1, "tickSize": -5, "labelColor": "#262626", "labelFont": "Liberation Sans", "labelFontSize": 20, "titleColor": "#262626", "titleFont": "Liberation Sans", "titleFontSize": 23.5, "titleFontWeight": "normal"},
  "axisX": {"labelPadding": 19, "titlePadding": 9},
  "axisY": {"labelPadding": 14, "titlePadding": 9},
  "legend": {"strokeWidth": 1.2}
 }
}
